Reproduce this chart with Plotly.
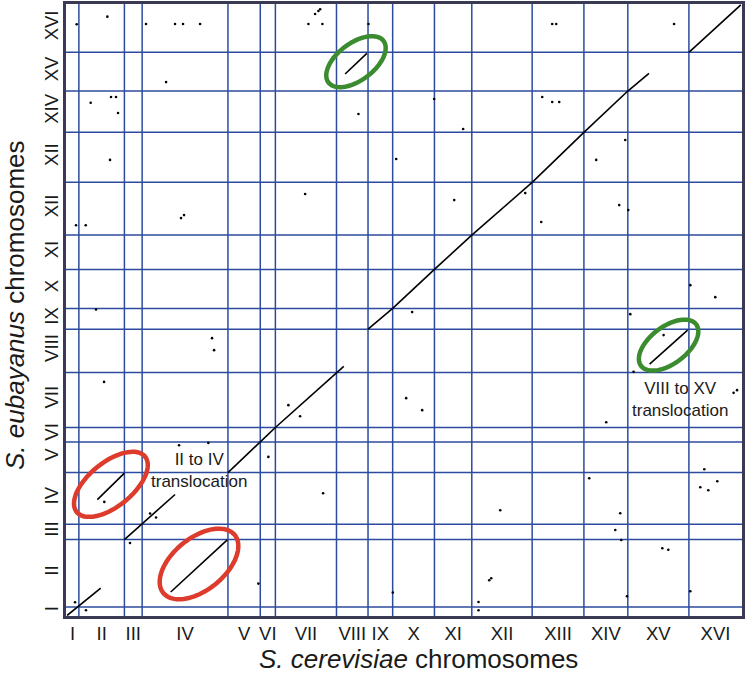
import numpy as np
import plotly.graph_objects as go

# ---------------- data ----------------
cer_chromosomes = ["I", "II", "III", "IV", "V", "VI", "VII", "VIII", "IX", "X",
                   "XI", "XII", "XIII", "XIV", "XV", "XVI"]
cer_sizes_kb = [230, 813, 317, 1532, 577, 270, 1091, 563, 440, 746,
                667, 1078, 924, 784, 1091, 948]

eub_chromosomes = ["I", "II", "III", "IV", "V", "VI", "VII", "VIII", "IX", "X",
                   "XI", "XII", "XII", "XIV", "XV", "XVI"]
eub_sizes_kb = [176, 1321, 300, 1013, 600, 282, 1078, 849, 406, 764,
                672, 1033, 980, 809, 758, 947]

# synteny blocks (genome-wide kb positions)
block_cer_start = [20, 560, 1043, 1870, 2892, 3469, 3739, 4984, 5393, 5833,
                   6579, 7246, 8324, 9248, 10032, 10421, 11123]
block_cer_end = [620, 1043, 1947, 2880, 3469, 3739, 4960, 5372, 5833, 6579,
                 7246, 8324, 9248, 10032, 10410, 11100, 12050]
block_eub_start = [10, 2280, 1497, 470, 2810, 3410, 3692, 10616, 5619, 6025,
                   6789, 7461, 8494, 9474, 10283, 4933, 11041]
block_eub_end = [545, 2800, 2380, 1490, 3410, 3692, 4890, 11022, 6025, 6789,
                 7461, 8494, 9474, 10283, 10630, 5600, 11970]

# translocated blocks that are circled
circled_blocks = [1, 3, 7, 15]
circled_kind = ["II-IV", "IV-II", "VIII-XV", "XV-VIII"]

# scattered single hits
dot_cer_kb = [161, 357, 684, 1143, 1501, 1608, 2019, 2542, 3614, 3971, 4180, 3435,
              191, 738, 441, 786, 179, 352, 536, 679, 4448, 4507, 4538, 4329, 4579,
              5401, 4765, 5222, 10076, 10671, 11921, 11982, 10135, 5836, 7366, 7366,
              10017, 11148, 1429, 1947, 2090, 2394, 1787, 804, 893, 929, 2054, 2108,
              4270, 2608, 2644, 4591, 7557, 7593, 10648, 10755, 9808, 9915, 11326,
              11469, 9897, 9343, 7754, 9647, 11398, 11630, 8486, 9879, 10040, 9468,
              9986, 8682, 8754, 10858, 8504, 8682, 8807, 6574, 7092, 5896, 6181,
              11148, 11594, 6074, 6360, 6932, 8200]
dot_eub_kb = [269, 112, 2235, 1431, 2007, 1929, 3346, 3391, 3116, 4130, 3914, 635,
              11591, 11740, 10055, 8934, 7654, 7654, 6005, 4586, 11793, 11852, 11885,
              11597, 11597, 11597, 10945, 9833, 5913, 5502, 4371, 4424, 4782, 459,
              274, 112, 386, 484, 11595, 11595, 11595, 11595, 10458, 10167, 10167,
              9852, 7794, 7853, 8265, 5443, 5208, 2404, 699, 739, 1328, 1299, 1686,
              1490, 2522, 2463, 2012, 2698, 2070, 3796, 2875, 2640, 7717, 8049, 7952,
              8934, 9325, 11595, 11595, 11595, 10167, 10068, 10068, 10128, 9539, 8952,
              5953, 6481, 6246, 4267, 4032, 8147, 8284]

x_title = "<i>S. cerevisiae</i> chromosomes"
y_title = "<i>S. eubayanus</i> chromosomes"
label_II_IV = "II to IV<br>translocation"
label_VIII_XV = "VIII to XV<br>translocation"

# ---------------- layout constants ----------------
W, H = 747, 679
ML, MR, MT, MB = 66, 5, 4, 63
PW, PH = W - ML - MR, H - MT - MB

GRID = "#2d4b9e"
FRAME = "#3a3a55"
RED = "#dd3b2c"
GREEN = "#3b8c2f"
TXT = "#1a1a1a"
FONT = "Liberation Sans, Arial, sans-serif"
NARROW = "Liberation Sans Narrow, Arial Narrow, Liberation Sans, Arial, sans-serif"

cer_edges = np.concatenate([[0], np.cumsum(cer_sizes_kb)])
eub_edges = np.concatenate([[0], np.cumsum(eub_sizes_kb)])
cer_centers = (cer_edges[:-1] + cer_edges[1:]) / 2
eub_centers = (eub_edges[:-1] + eub_edges[1:]) / 2
xmax, ymax = cer_edges[-1], eub_edges[-1]
sx, sy = PW / xmax, PH / ymax  # px per kb

fig = go.Figure()

# synteny lines
lx, ly = [], []
for a, b, c, d in zip(block_cer_start, block_cer_end, block_eub_start, block_eub_end):
    lx += [a, b, None]
    ly += [c, d, None]
fig.add_trace(go.Scatter(x=lx, y=ly, mode="lines",
                         line=dict(color="black", width=1.6),
                         hoverinfo="skip", showlegend=False))
fig.add_trace(go.Scatter(x=dot_cer_kb, y=dot_eub_kb, mode="markers",
                         marker=dict(color="black", size=2.6),
                         hoverinfo="skip", showlegend=False))

shapes = []
for e in cer_edges[1:-1]:
    shapes.append(dict(type="line", xref="x", yref="y", x0=e, x1=e, y0=0, y1=ymax,
                       line=dict(color=GRID, width=1.5), layer="below"))
for e in eub_edges[1:-1]:
    shapes.append(dict(type="line", xref="x", yref="y", x0=0, x1=xmax, y0=e, y1=e,
                       line=dict(color=GRID, width=1.5), layer="below"))

# ellipses around translocated blocks
ell_style = {"II-IV": (44, 22, 39, RED), "IV-II": (46, 26, 39, RED),
             "VIII-XV": (34.5, 18.5, 37, GREEN), "XV-VIII": (34.5, 18.5, 37, GREEN)}
t = np.linspace(0, 2 * np.pi, 90)
for bi, kind in zip(circled_blocks, circled_kind):
    a_px, b_px, ang, col = ell_style[kind]
    cx = (block_cer_start[bi] + block_cer_end[bi]) / 2
    cy = (block_eub_start[bi] + block_eub_end[bi]) / 2 + 2 / sy
    th = np.radians(ang)
    dx = a_px * np.cos(t) * np.cos(th) - b_px * np.sin(t) * np.sin(th)
    dy = a_px * np.cos(t) * np.sin(th) + b_px * np.sin(t) * np.cos(th)
    px = cx + dx / sx
    py = cy + dy / sy
    path = "M " + " L ".join(f"{u:.2f},{v:.2f}" for u, v in zip(px, py)) + " Z"
    shapes.append(dict(type="path", xref="x", yref="y", path=path,
                       line=dict(color=col, width=4.5), layer="above"))

annotations = [
    dict(text=label_II_IV, xref="paper", yref="paper", x=(198.5 - ML) / PW,
         y=(H - MB - 470.5) / PH, showarrow=False, xanchor="center", yanchor="middle",
         font=dict(family=FONT, size=17, color=TXT)),
    dict(text=label_VIII_XV, xref="paper", yref="paper", x=(680 - ML) / PW,
         y=(H - MB - 400) / PH, showarrow=False, xanchor="center", yanchor="middle",
         font=dict(family=FONT, size=17, color=TXT)),
    dict(text=x_title, xref="paper", yref="paper", x=(419 - ML) / PW,
         y=(H - MB - 659) / PH, showarrow=False, xanchor="center", yanchor="middle",
         font=dict(family=FONT, size=26, color=TXT)),
    dict(text=y_title, xref="paper", yref="paper", x=(15 - ML) / PW,
         y=(H - MB - 305) / PH, showarrow=False, xanchor="center", yanchor="middle",
         textangle=-90, font=dict(family=FONT, size=26, color=TXT)),
]

fig.update_layout(
    width=W, height=H, margin=dict(l=ML, r=MR, t=MT, b=MB, autoexpand=False),
    paper_bgcolor="white", plot_bgcolor="white",
    shapes=shapes, annotations=annotations, showlegend=False,
    xaxis=dict(range=[0, xmax], tickmode="array", tickvals=cer_centers,
               ticktext=cer_chromosomes, showgrid=False, zeroline=False,
               showline=True, mirror=True, linecolor=FRAME, linewidth=2.5,
               ticks="", ticklabelstandoff=-1, automargin=False,
               tickfont=dict(family=NARROW, size=18.5, color=TXT)),
    yaxis=dict(range=[0, ymax], tickmode="array", tickvals=eub_centers,
               ticktext=eub_chromosomes, showgrid=False, zeroline=False,
               showline=True, mirror=True, linecolor=FRAME, linewidth=2.5,
               ticks="", tickangle=-90, ticklabelstandoff=-2, automargin=False,
               tickfont=dict(family=NARROW, size=18.5, color=TXT)),
)

fig.write_html("out.html", config={"displayModeBar": False},
               post_script="document.body.style.margin='0';")
